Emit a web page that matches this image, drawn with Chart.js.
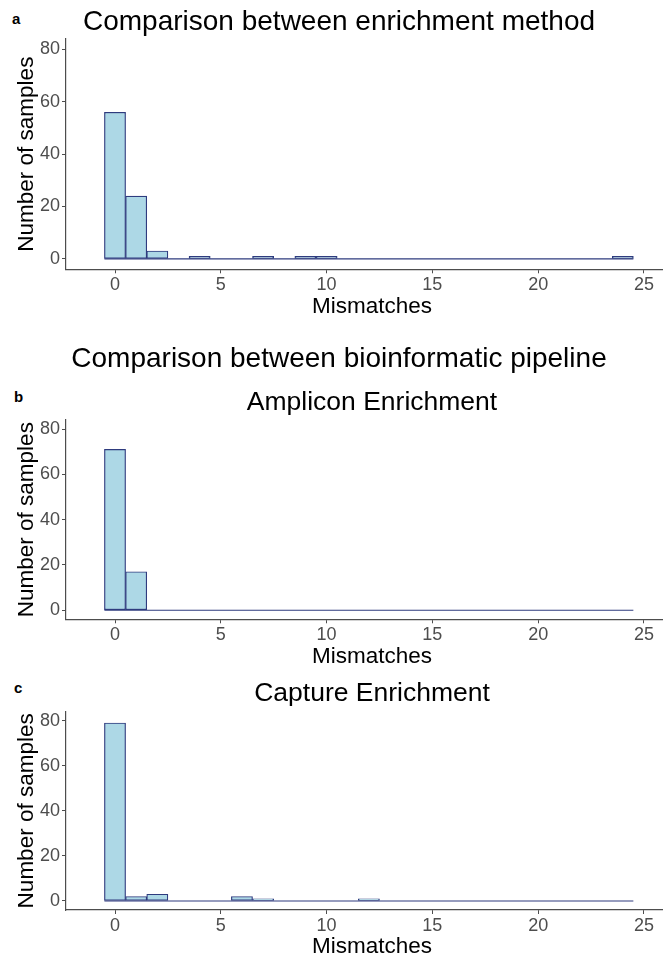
<!DOCTYPE html>
<html>
<head>
<meta charset="utf-8">
<title>Mismatches</title>
<script src="https://cdn.jsdelivr.net/npm/chart.js@4.4.1/dist/chart.umd.min.js"></script>
<style>
	body { margin: 0; background: #fff; font-family: "Liberation Sans", Arial, sans-serif; }
	#page { position: relative; width: 663px; height: 958px; overflow: hidden; }
	.panel { position: absolute; left: 0; }
	.tag { position: absolute; font-weight: bold; font-size: 15px; color: #000; }
</style>
</head>
<body>
<div id="page">
	<div class="tag" style="left:12px; top:10px;">a</div>
	<div class="tag" style="left:14px; top:388px;">b</div>
	<div class="tag" style="left:14px; top:679px;">c</div>
	<canvas class="panel" id="chart-a" width="686" height="322" style="top:0px;"></canvas>
	<canvas class="panel" id="chart-b" width="686" height="340" style="top:330px;"></canvas>
	<canvas class="panel" id="chart-c" width="686" height="290" style="top:670px;"></canvas>
</div>
<script>
( function() {
	'use strict';

	// bins of the histogram (number of mismatches)
	var mismatchBins = [0, 1, 2, 3, 4, 5, 6, 7, 8, 9, 10, 11, 12, 13, 14, 15, 16, 17, 18, 19, 20, 21, 22, 23, 24];
	// number of samples per bin
	var enrichmentCounts = [56, 24, 3, 0, 1, 0, 0, 1, 0, 1, 1, 0, 0, 0, 0, 0, 0, 0, 0, 0, 0, 0, 0, 0, 1];
	var ampliconCounts   = [71, 17, 0, 0, 0, 0, 0, 0, 0, 0, 0, 0, 0, 0, 0, 0, 0, 0, 0, 0, 0, 0, 0, 0, 0];
	var captureCounts    = [79, 2, 3, 0, 0, 0, 2, 1, 0, 0, 0, 0, 1, 0, 0, 0, 0, 0, 0, 0, 0, 0, 0, 0, 0];
	var xTicks = [0, 5, 10, 15, 20, 25];
	var yTicks = [0, 20, 40, 60, 80];

	var fill = "#ADD8E6";
	var edge = "#2E3B7E";
	var axisColor = "#4d4d4d";
	var family = "'Liberation Sans', Arial, sans-serif";

	histogram("chart-a", enrichmentCounts, {
		title: { text: "Comparison between enrichment method", size: 28, full: true, padding: { top: 5.2, bottom: 0.2 } },
		xHeight: 52.7, xTitlePad: 1.5
	});

	histogram("chart-b", ampliconCounts, {
		title: { text: "Comparison between bioinformatic pipeline", size: 28, full: true, padding: { top: 12.2, bottom: 0 } },
		subtitle: { text: "Amplicon Enrichment", size: 26.5, padding: { top: 11.3, bottom: 1.1 } },
		xHeight: 50.7, xTitlePad: 0
	});

	histogram("chart-c", captureCounts, {
		title: { text: "Capture Enrichment", size: 26.5, full: false, padding: { top: 8.1, bottom: 1.8 } },
		xHeight: 50, xTitlePad: 0
	});

	/**
	 * Histograma de desajustes (barras + linha de base em zero)
	 */
	function histogram(id, counts, cfg) {
		var bars = mismatchBins.map(function(bin, i) {
			return { x: bin, y: counts[i] };
		});
		var first = mismatchBins[0] - 0.5;
		var last = mismatchBins[mismatchBins.length - 1] + 0.5;

		var plugins = {
			legend: { display: false },
			tooltip: { enabled: false },
			title: {
				display: true,
				fullSize: cfg.title.full,
				text: cfg.title.text,
				color: "#000",
				font: { family: family, size: cfg.title.size, weight: "normal", lineHeight: 1.2 },
				padding: cfg.title.padding
			},
			subtitle: { display: false }
		};
		if (cfg.subtitle) {
			plugins.subtitle = {
				display: true,
				fullSize: false,
				text: cfg.subtitle.text,
				color: "#000",
				font: { family: family, size: cfg.subtitle.size, weight: "normal", lineHeight: 1.2 },
				padding: cfg.subtitle.padding
			};
		}

		var ctx = document.getElementById(id);
		return new Chart(ctx, {
			type: "bar",
			data: {
				datasets: [
					{
						type: "bar",
						data: bars,
						backgroundColor: fill,
						borderColor: edge,
						borderWidth: 1.2,
						borderSkipped: false,
						barPercentage: 1,
						categoryPercentage: 1
					},
					{
						type: "line",
						data: [{ x: first, y: 0 }, { x: last, y: 0 }],
						borderColor: edge,
						borderWidth: 1.2,
						pointRadius: 0,
						fill: false
					}
				]
			},
			options: {
				responsive: false,
				animation: false,
				devicePixelRatio: 1,
				// canvas runs past the page edge; the axis is cut there like in the original figure
				layout: { padding: { left: 0, top: 0, bottom: 0, right: 8 } },
				plugins: plugins,
				scales: {
					x: {
						type: "linear",
						min: -2.316,
						max: 26.61,
						offset: false,
						afterFit: function(scale) { scale.height = cfg.xHeight; },
						afterBuildTicks: function(scale) {
							scale.ticks = xTicks.map(function(v) { return { value: v }; });
						},
						grid: { offset: false, drawOnChartArea: false, drawTicks: true, tickLength: 4, color: axisColor },
						border: { display: true, color: axisColor, width: 1.2 },
						ticks: { color: axisColor, padding: 1, maxRotation: 0, font: { family: family, size: 18 } },
						title: {
							display: true,
							text: "Mismatches",
							color: "#000",
							font: { family: family, size: 22.5, lineHeight: 1.2 },
							padding: { top: 0, bottom: cfg.xTitlePad }
						}
					},
					y: {
						type: "linear",
						min: -4,
						max: 84,
						afterFit: function(scale) { scale.width = 66; },
						afterBuildTicks: function(scale) {
							scale.ticks = yTicks.map(function(v) { return { value: v }; });
						},
						grid: { drawOnChartArea: false, drawTicks: true, tickLength: 4, color: axisColor },
						border: { display: true, color: axisColor, width: 1.2 },
						ticks: { color: axisColor, padding: 2, font: { family: family, size: 18 } },
						title: {
							display: true,
							text: "Number of samples",
							color: "#000",
							font: { family: family, size: 22.5, lineHeight: 1.2 },
							padding: { top: 13.5, bottom: 0 }
						}
					}
				}
			}
		});
	}
})();
</script>
</body>
</html>
